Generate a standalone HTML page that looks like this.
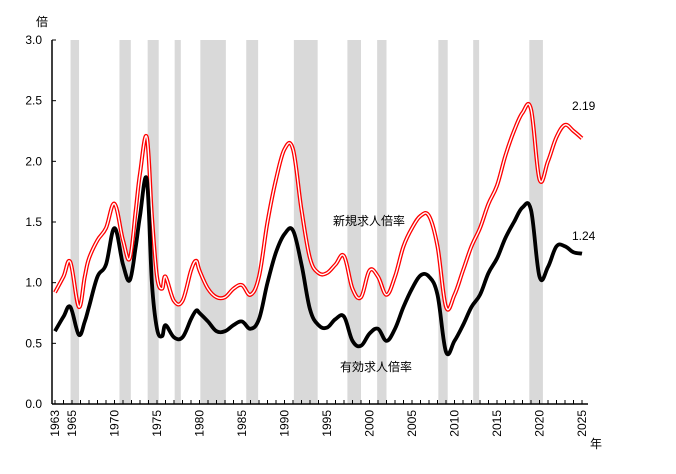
<!DOCTYPE html>
<html><head><meta charset="utf-8"><style>
body{margin:0;background:#fff}
svg text{font-family:"Liberation Sans","Noto Sans CJK JP",sans-serif;font-size:12px;fill:#000}
</style></head><body>
<svg id="c" width="676" height="469"></svg>
<script>
const years=[1963,1964,1964.8,1965.8,1966.5,1967,1968,1969,1970,1971,1971.8,1972.5,1973,1973.8,1974.4,1975,1975.6,1976,1977,1978,1979,1979.6,1980,1981,1982,1983,1984,1985,1986,1987,1988,1989,1990,1991,1992,1993,1994,1995,1996,1997,1998,1999,2000,2001,2002,2003,2004,2005,2006,2007,2008,2009,2010,2011,2012,2013,2014,2015,2016,2017,2018,2019,2020,2021,2022,2023,2024,2025];
const newRatio=[0.92,1.05,1.17,0.8,1.05,1.2,1.35,1.45,1.65,1.35,1.2,1.6,1.9,2.2,1.55,1.05,0.95,1.05,0.85,0.85,1.1,1.18,1.1,0.95,0.88,0.88,0.95,0.98,0.9,1.05,1.5,1.85,2.1,2.1,1.6,1.2,1.08,1.08,1.15,1.22,0.95,0.88,1.1,1.05,0.9,1.05,1.3,1.45,1.55,1.55,1.3,0.8,0.9,1.1,1.3,1.45,1.65,1.8,2.05,2.25,2.4,2.43,1.85,2.0,2.2,2.3,2.25,2.19];
const activeRatio=[0.6,0.72,0.8,0.57,0.68,0.8,1.05,1.15,1.45,1.15,1.02,1.3,1.55,1.85,1.0,0.62,0.56,0.65,0.55,0.55,0.7,0.77,0.75,0.68,0.6,0.6,0.65,0.68,0.62,0.7,1.0,1.25,1.4,1.43,1.15,0.78,0.65,0.63,0.7,0.72,0.52,0.48,0.58,0.62,0.52,0.62,0.8,0.95,1.06,1.05,0.9,0.43,0.52,0.65,0.8,0.9,1.08,1.2,1.37,1.5,1.62,1.6,1.05,1.13,1.3,1.3,1.25,1.24];
const recessions=[[1964.83,1965.83],[1970.58,1971.92],[1973.9,1975.2],[1977.08,1977.8],[1980.1,1983.1],[1985.5,1986.9],[1991.1,1993.9],[1997.4,1999.0],[2000.9,2002.0],[2008.1,2009.2],[2012.2,2012.9],[2018.8,2020.4]];
const yTicks=[0,0.5,1.0,1.5,2.0,2.5,3.0];
const labelYears=[1963,1965,1970,1975,1980,1985,1990,1995,2000,2005,2010,2015,2020,2025];
const X=y=>55+(y-1963)*8.5, Y=v=>404-v*121.33;
const svg=document.getElementById('c'),NS='http://www.w3.org/2000/svg';
function mk(t,a,p){const e=document.createElementNS(NS,t);for(const k in a)e.setAttribute(k,a[k]);(p||svg).appendChild(e);return e;}
recessions.forEach(r=>{const e=mk('rect',{x:X(r[0]),y:40,width:X(r[1])-X(r[0]),height:364,fill:'#d9d9d9'});

});
yTicks.forEach(v=>{const t=mk('text',{x:42,y:Y(v)+4,'text-anchor':'end'});t.textContent=v.toFixed(1);


mk('line',{x1:52,x2:56,y1:Y(v),y2:Y(v),stroke:'#000'});});
for(let y=1963;y<=2025;y++){mk('line',{x1:X(y),x2:X(y),y1:404,y2:400,stroke:'#000'});}
labelYears.forEach(y=>{const t=mk('text',{x:0,y:0,transform:`translate(${X(y)+4},${410}) rotate(-90)`,'text-anchor':'end'});t.textContent=y;

});
mk('line',{x1:52,x2:52,y1:40,y2:404,stroke:'#000','stroke-width':1.5});
mk('line',{x1:52,x2:588,y1:404,y2:404,stroke:'#000','stroke-width':1.5});
function path(arr){
  const pts=arr.map((v,i)=>[X(years[i]),Y(v)]);
  let d='M'+pts[0][0].toFixed(1)+','+pts[0][1].toFixed(1);
  for(let i=0;i<pts.length-1;i++){
    const p0=pts[Math.max(0,i-1)],p1=pts[i],p2=pts[i+1],p3=pts[Math.min(pts.length-1,i+2)];
    const k=0.18;
    const c1=[p1[0]+(p2[0]-p0[0])*k,p1[1]+(p2[1]-p0[1])*k];
    const c2=[p2[0]-(p3[0]-p1[0])*k,p2[1]-(p3[1]-p1[1])*k];
    d+='C'+c1.map(n=>n.toFixed(1)).join(',')+' '+c2.map(n=>n.toFixed(1)).join(',')+' '+p2[0].toFixed(1)+','+p2[1].toFixed(1);
  }
  return d;
}
let p=mk('path',{d:path(newRatio),fill:'none',stroke:'#ff0000','stroke-width':4,'stroke-linejoin':'round'});


mk('path',{d:path(newRatio),fill:'none',stroke:'#fff','stroke-width':1.4,'stroke-linejoin':'round'});
p=mk('path',{d:path(activeRatio),fill:'none',stroke:'#000','stroke-width':3.8,'stroke-linejoin':'round'});


</script>
<svg width="676" height="469" style="position:absolute;left:0;top:0">
<text x="36" y="26">倍</text>
<text x="590" y="448">年</text>
<text x="333" y="225">新規求人倍率</text>
<text x="340" y="371">有効求人倍率</text>
<text x="572" y="110">2.19</text>
<text x="572" y="240">1.24</text>
</svg>
</body></html>
